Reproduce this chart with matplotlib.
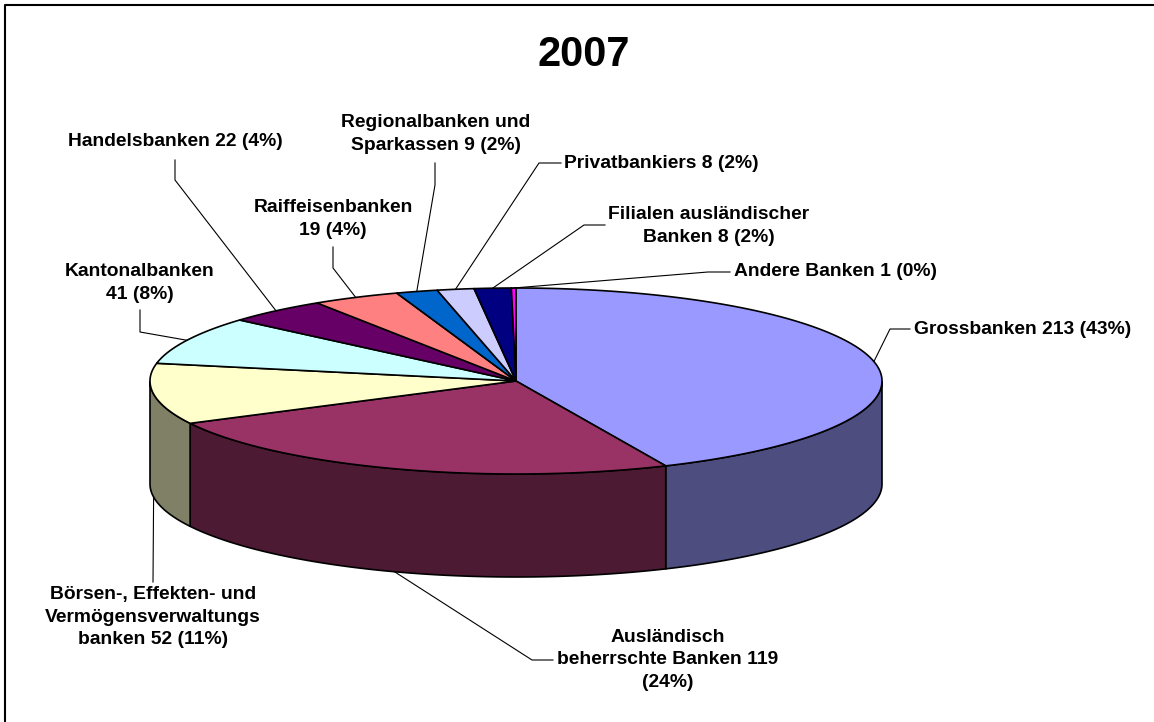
import numpy as np
import matplotlib.pyplot as plt
from matplotlib.patches import Polygon

# Daten: Anzahl Banken 2007 nach Bankengruppe
kategorien = ['Grossbanken', 'Ausländisch\nbeherrschte Banken',
              'Börsen-, Effekten- und\nVermögensverwaltungs\nbanken',
              'Kantonalbanken', 'Handelsbanken', 'Raiffeisenbanken',
              'Regionalbanken und\nSparkassen', 'Privatbankiers',
              'Filialen ausländischer\nBanken', 'Andere Banken']
werte = [213, 119, 52, 41, 22, 19, 9, 8, 8, 1]
prozent = [43, 24, 11, 8, 4, 4, 2, 2, 2, 0]
etiketten = ['Grossbanken 213 (43%)',
             'Ausländisch\nbeherrschte Banken 119\n(24%)',
             'Börsen-, Effekten- und\nVermögensverwaltungs\nbanken 52 (11%)',
             'Kantonalbanken\n41 (8%)',
             'Handelsbanken 22 (4%)',
             'Raiffeisenbanken\n19 (4%)',
             'Regionalbanken und\nSparkassen 9 (2%)',
             'Privatbankiers 8 (2%)',
             'Filialen ausländischer\nBanken 8 (2%)',
             'Andere Banken 1 (0%)']

farben = ['#9999FF', '#993366', '#FFFFCC', '#CCFFFF', '#660066',
          '#FF8080', '#0066CC', '#CCCCFF', '#000080', '#FF00FF']

# Geometrie der 3D-Torte (Pixel)
cx, cy = 516, 381
rx, ry = 366, 93
tiefe = 103

# Beschriftungen: Textmitte, Knickpunkt, Linienende
text_pos = [(1023, 330), (668, 660), (153, 617), (140, 283), (175, 142),
            (333, 219), (436, 134), (661, 164), (709, 226), (835, 272)]
knick = [(890, 329), (532, 660), None, (140, 332), (175, 180),
         (333, 268), (435, 185), (539, 163), (584, 225), (708, 272)]
ende = [(910, 329), (553, 660), (153, 582), (140, 310), (175, 160),
        (333, 247), (435, 163), (561, 163), (605, 225), (730, 272)]


def punkt(theta, dz=0.0):
    # theta im Uhrzeigersinn ab 12 Uhr
    return cx + rx * np.sin(theta), cy - ry * np.cos(theta) + dz


fig = plt.figure(figsize=(11.54, 7.22), dpi=100)
ax = fig.add_axes([0, 0, 1, 1])
ax.set_xlim(0, 1154)
ax.set_ylim(722, 0)
ax.axis('off')

gesamt = sum(werte)
grenzen = np.concatenate([[0], np.cumsum(werte)]) / gesamt * 2 * np.pi


def dunkler(farbe):
    r, g, b = [int(farbe[i:i + 2], 16) / 255 for i in (1, 3, 5)]
    return (r * 0.5, g * 0.5, b * 0.5)


# ---- Seitenflächen (nur vordere Hälfte sichtbar) ----
for i in range(len(werte)):
    a = max(grenzen[i], np.pi / 2)
    b = min(grenzen[i + 1], 3 * np.pi / 2)
    if b <= a:
        continue
    t = np.linspace(a, b, 100)
    oben = [punkt(x) for x in t]
    unten = [punkt(x, tiefe) for x in t[::-1]]
    ax.add_patch(Polygon(oben + unten, closed=True, facecolor=dunkler(farben[i]),
                         edgecolor='black', linewidth=1.2, zorder=2))

# ---- Deckflächen ----
for i in range(len(werte)):
    t = np.linspace(grenzen[i], grenzen[i + 1], 200)
    pts = [(cx, cy)] + [punkt(x) for x in t]
    ax.add_patch(Polygon(pts, closed=True, facecolor=farben[i],
                         edgecolor='black', linewidth=1.2, zorder=3))

# ---- Beschriftungen mit Führungslinien ----
for i in range(len(werte)):
    mitte = (grenzen[i] + grenzen[i + 1]) / 2
    dz = tiefe if np.pi / 2 < mitte < 3 * np.pi / 2 else 0
    ax0, ay0 = punkt(mitte, dz)
    xs = [ax0]
    ys = [ay0]
    if knick[i] is not None:
        xs.append(knick[i][0])
        ys.append(knick[i][1])
    xs.append(ende[i][0])
    ys.append(ende[i][1])
    ax.plot(xs, ys, color='black', linewidth=0.8, zorder=4)
    ax.text(text_pos[i][0], text_pos[i][1], etiketten[i], ha='center', va='center',
            fontsize=13.9, fontweight='bold', family='Liberation Sans',
            linespacing=1.45, zorder=5)

ax.text(584, 55, '2007', ha='center', va='center', fontsize=30,
        fontweight='bold', family='Liberation Sans')

# Rahmen (oben und links sichtbar)
ax.plot([5, 5, 1154], [722, 5, 5], color='black', linewidth=1.5)

fig.savefig('out.png', dpi=100)
